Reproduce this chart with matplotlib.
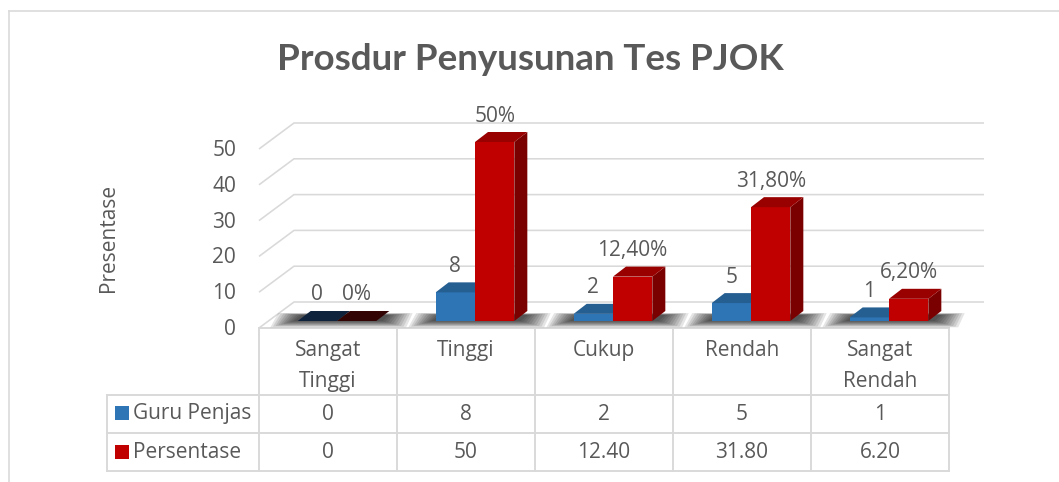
import matplotlib
matplotlib.use("Agg")
import matplotlib.pyplot as plt
from matplotlib.patches import Polygon, Rectangle
from matplotlib.lines import Line2D
import numpy as np

# ---------------- data ----------------
categories = ["Sangat\nTinggi", "Tinggi", "Cukup", "Rendah", "Sangat\nRendah"]
series_names = ["Guru Penjas", "Persentase"]
guru_penjas = [0, 8, 2, 5, 1]
persentase = [0, 50, 12.40, 31.80, 6.20]
guru_labels = ["0", "8", "2", "5", "1"]
persen_labels = ["0%", "50%", "12,40%", "31,80%", "6,20%"]
guru_table = ["0", "8", "2", "5", "1"]
persen_table = ["0", "50", "12.40", "31.80", "6.20"]
yticks = [0, 10, 20, 30, 40, 50]
title = "Prosdur Penyusunan Tes PJOK"
ylabel = "Presentase"

# ---------------- style / layout ----------------
plt.rcParams['font.family'] = ['Open Sans', 'DejaVu Sans']
TXT = "#595959"
GRID = "#D9D9D9"
BLUE = ("#2E75B6", "#255E91", "#1F4E79")   # front, top, side
RED = ("#C00000", "#990000", "#7A0000")
BLUE0 = "#10233D"
RED0 = "#330404"
FS = 15

W, H, DPI = 1059, 482, 100
X0, COLW, Y0, PXU = 328, 138, 328, 3.58   # category 0 centre px, col width px, zero line px, px per unit

fig = plt.figure(figsize=(W / DPI, H / DPI), dpi=DPI)
ax = fig.add_axes([0, 0, 1, 1])
ax.set_xlim((0 - X0) / COLW, (W - X0) / COLW)
ax.set_ylim(-(H - Y0) / PXU, Y0 / PXU)
ax.axis('off')


def px(dx, dy):
    return dx / COLW, dy / PXU


def ypx(py):
    return (Y0 - py) / PXU


def xpx(pxx):
    return (pxx - X0) / COLW


n = len(categories)
xs = np.arange(n)
LW = 1.6 * 72 / DPI

# frame
fig.add_artist(Line2D([8.5 / W, 8.5 / W], [0, 1 - 11 / H], color=GRID, lw=LW, transform=fig.transFigure))
fig.add_artist(Line2D([8.5 / W, 1], [1 - 11 / H, 1 - 11 / H], color=GRID, lw=LW, transform=fig.transFigure))

# back wall gridlines + floor
wx, wy = px(35, 26)
left, right = -0.5, n - 0.5
for v in yticks:
    ax.plot([left, left + wx, right + wx], [v, v + wy, v + wy], color=GRID, lw=LW, zorder=1,
            solid_capstyle='butt')

# tick labels
for v in yticks:
    ax.text(xpx(236), v - 0.4, str(v), ha='right', va='center', fontsize=FS, color=TXT)
ax.text(xpx(108), ypx(238), ylabel, rotation=90, ha='center', va='center', fontsize=FS, color=TXT)

# title
fig.text(530 / W, 1 - 60 / H, title, ha='center', va='center', fontsize=26.5,
         fontweight='bold', color=TXT, family=['Lato', 'DejaVu Sans'])

# bars
bx, by = px(9, 7)
ddx, ddy = px(13, 10)
w = 0.285

# shadows
for i in range(n):
    xl = i + bx - w
    xr = i + bx + w
    for k in range(10):
        ex, ey = px(2.6 * k, 0.7 * k)
        pts = [(xl - ex - ddx * 0.3, by - ey), (xr + ex + ddx * 0.5, by - ey),
               (xr + ddx + ex, by + ddy * 0.6 + ey * 0.3), (xl + ddx * 0.3 - ex, by + ddy * 0.6 + ey * 0.3)]
        ax.add_patch(Polygon(pts, closed=True, facecolor='black', edgecolor='none', alpha=0.1, zorder=2))


def bar3d(x_left, vals, cols, zero_col, z):
    ax.bar(x_left, vals, width=w, bottom=by, align='edge', color=cols[0], linewidth=0, zorder=z)
    for xl, v in zip(x_left, vals):
        top = [(xl, by + v), (xl + w, by + v), (xl + w + ddx, by + v + ddy), (xl + ddx, by + v + ddy)]
        side = [(xl + w, by), (xl + w + ddx, by + ddy), (xl + w + ddx, by + v + ddy), (xl + w, by + v)]
        ax.add_patch(Polygon(side, closed=True, facecolor=cols[2], edgecolor='none', zorder=z))
        ax.add_patch(Polygon(top, closed=True, facecolor=(cols[1] if v > 0 else zero_col),
                             edgecolor='none', zorder=z))


bar3d(xs + bx - w, guru_penjas, BLUE, BLUE0, 3)
bar3d(xs + bx, persentase, RED, RED0, 4)

LOFF = px(0, 26)[1]
for i in range(n):
    ax.text(i + bx - w / 2, guru_penjas[i] + by + LOFF, guru_labels[i], ha='center', va='center',
            fontsize=FS, color=TXT, zorder=5)
    ax.text(i + bx + w / 2, persentase[i] + by + LOFF, persen_labels[i], ha='center', va='center',
            fontsize=FS, color=TXT, zorder=5)

# data table
LEGX = xpx(107)
rows_px = [328, 395, 433, 471]
ry = [ypx(p) for p in rows_px]
TLW = LW * 1.2
ax.plot([left, right], [ry[0], ry[0]], color=GRID, lw=TLW, zorder=1)
for y in ry[1:]:
    ax.plot([LEGX, right], [y, y], color=GRID, lw=TLW, zorder=1)
for i in range(n + 1):
    xv = i - 0.5
    ax.plot([xv, xv], [ry[0], ry[3]], color=GRID, lw=TLW, zorder=1)
ax.plot([LEGX, LEGX], [ry[1], ry[3]], color=GRID, lw=TLW, zorder=1)

for i, c in enumerate(categories):
    ax.text(i, ypx(340), c, ha='center', va='top', fontsize=FS, color=TXT, linespacing=1.6)
    ax.text(i, ypx(414), guru_table[i], ha='center', va='center', fontsize=FS, color=TXT)
    ax.text(i, ypx(452), persen_table[i], ha='center', va='center', fontsize=FS, color=TXT)

for name, col, pyc in [(series_names[0], BLUE[0], 413), (series_names[1], RED[0], 452)]:
    kx, ky = xpx(115), ypx(pyc + 7)
    ax.add_patch(Rectangle((kx, ky), 14 / COLW, 14 / PXU, facecolor=col, edgecolor='none'))
    ax.text(xpx(133), ypx(pyc), name, ha='left', va='center', fontsize=FS, color=TXT)

fig.savefig("out.png", dpi=DPI)
